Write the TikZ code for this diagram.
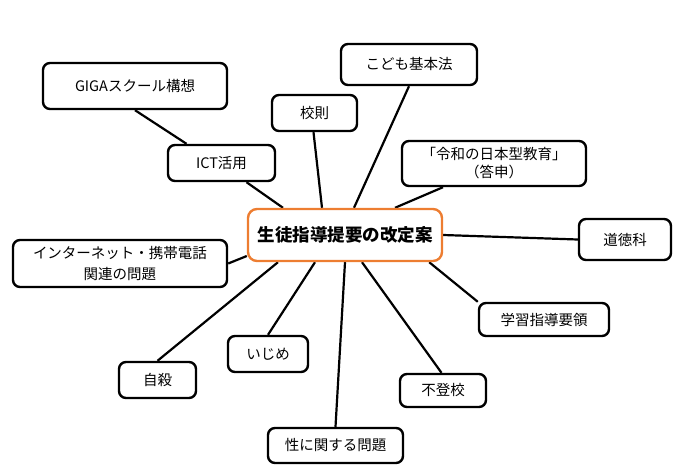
\documentclass[tikz,border=0pt]{standalone}
\usepackage{fontspec}
\setmainfont{Noto Sans CJK JP}
\usetikzlibrary{backgrounds}
\definecolor{accent}{RGB}{237,125,49}
\begin{document}
\begin{tikzpicture}[x=1pt,y=-1pt,
  leaf/.style={draw=black, line width=2.4pt, rounded corners=7pt, fill=white,
    inner sep=0pt, align=center, font=\fontsize{14.5}{19}\selectfont},
  hub/.style={draw=accent, line width=2.4pt, rounded corners=9pt, fill=white,
    inner sep=0pt, align=center, font=\fontsize{17.5}{21}\selectfont\bfseries},
  link/.style={line width=2.2pt, black}]
\useasboundingbox (0,0) rectangle (681,472);
\node[hub,  minimum width=194pt, minimum height=52pt] (main) at (345,235) {生徒指導提要の改定案};
\node[leaf, minimum width=184pt, minimum height=46pt] (giga) at (135,86) {GIGAスクール構想};
\node[leaf, minimum width=85pt,  minimum height=36pt] (kousoku) at (314.5,113) {校則};
\node[leaf, minimum width=107pt, minimum height=36pt] (ict) at (221.5,163) {ICT活用};
\node[leaf, minimum width=214pt, minimum height=47pt, font=\fontsize{14.5}{21}\selectfont] (inet) at (120,263.5) {インターネット・携帯電話\\関連の問題};
\node[leaf, minimum width=136pt, minimum height=41pt] (kodomo) at (409,64.5) {こども基本法};
\node[leaf, minimum width=184pt, minimum height=45pt, font=\fontsize{14.5}{18}\selectfont] (reiwa) at (494,163.5) {「令和の日本型教育」\\（答申）};
\node[leaf, minimum width=92pt,  minimum height=41pt] (doutoku) at (625,239.5) {道徳科};
\node[leaf, minimum width=130pt, minimum height=33pt] (gakushu) at (544,319.5) {学習指導要領};
\node[leaf, minimum width=80pt,  minimum height=36pt] (ijime) at (268,354) {いじめ};
\node[leaf, minimum width=77pt,  minimum height=36pt] (jisatsu) at (157.5,380) {自殺};
\node[leaf, minimum width=86pt,  minimum height=33pt] (futoko) at (443,390.5) {不登校};
\node[leaf, minimum width=135pt, minimum height=35pt] (sei) at (335.5,445.5) {性に関する問題};
\begin{scope}[on background layer]
\draw[link] (giga.south) -- ([xshift=-35pt]ict.north);
\draw[link] ([xshift=25pt]ict.south) -- ([xshift=-62pt]main.north);
\draw[link] ([xshift=-1pt]kousoku.south) -- ([xshift=-23pt]main.north);
\draw[link] (inet.east) -- ([yshift=-21pt]main.west);
\draw[link] (kodomo.south) -- ([xshift=9pt]main.north);
\draw[link] ([xshift=-51pt]reiwa.south) -- ([xshift=50pt]main.north);
\draw[link] (doutoku.west) -- (main.east);
\draw[link] (gakushu.north west) -- ([xshift=-14pt]main.south east);
\draw[link] ([xshift=-1.5pt]futoko.north) -- ([xshift=17pt]main.south);
\draw[link] (sei.north) -- (main.south);
\draw[link] (ijime.north) -- ([xshift=-30pt]main.south);
\draw[link] (jisatsu.north) -- ([xshift=-67pt]main.south);
\end{scope}
\end{tikzpicture}
\end{document}
